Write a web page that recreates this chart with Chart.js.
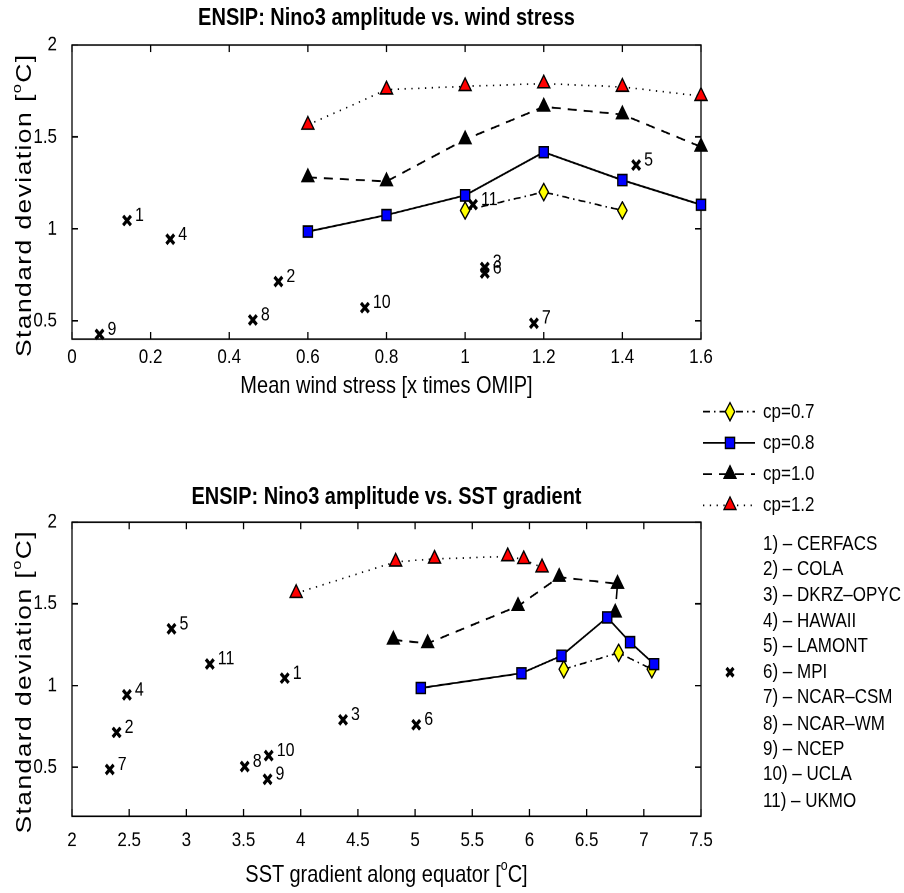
<!DOCTYPE html>
<html>
<head>
<meta charset="utf-8">
<title>ENSIP Nino3 amplitude</title>
<script src="https://cdn.jsdelivr.net/npm/chart.js@4.4.1/dist/chart.umd.min.js"></script>
<style>
  html, body { margin: 0; padding: 0; background: #fff; }
  body { width: 904px; height: 893px; overflow: hidden; position: relative;
         font-family: "Liberation Sans", Arial, Helvetica, sans-serif; color: #000; }
  /* the reference is a MATLAB figure stretched vertically, so draw it flat and stretch */
  #fig { position: absolute; left: 0; top: 0; width: 904px; height: 744px;
         transform: scaleY(1.2003); transform-origin: 0 0; }
  canvas { position: absolute; left: 0; }
  .t { position: absolute; white-space: nowrap; transform: translate(-50%, -50%); }
  .title { font-weight: bold; font-size: 20px; }
  .lab { font-size: 20px; }
  .ylab { font-size: 22px; letter-spacing: 1.2px; transform: translate(-50%, -50%) rotate(-90deg); }
  sup { font-size: 0.62em; vertical-align: 0.75em; line-height: 0; }
  .legsym { position: absolute; left: 700px; width: 58px; height: 20px; transform: translateY(-50%); }
  .legtxt { position: absolute; left: 763px; font-size: 17px; white-space: nowrap; transform: translateY(-50%); }
</style>
</head>
<body>
<div id="fig">
  <canvas id="top" width="904" height="320" style="top:0px"></canvas>
  <canvas id="bottom" width="904" height="424" style="top:320px"></canvas>

  <div class="t title" style="left:386.5px; top:14px">ENSIP: Nino3 amplitude vs. wind stress</div>
  <div class="t lab" style="left:386.5px; top:321px">Mean wind stress [x times OMIP]</div>
  <div class="t lab ylab" style="left:24px; top:171px">Standard deviation [<sup>o</sup>C]</div>

  <div class="t title" style="left:386.5px; top:412.5px">ENSIP: Nino3 amplitude vs. SST gradient</div>
  <div class="t lab" style="left:386.5px; top:728px">SST gradient along equator [<sup>o</sup>C]</div>
  <div class="t lab ylab" style="left:24px; top:568px">Standard deviation [<sup>o</sup>C]</div>

  <div id="legend"></div>
</div>

<script>
// x positions of the coupled runs (cp = coupling parameter)
const windStress = [0.6, 0.8, 1.0, 1.2, 1.4, 1.6];
const windStressCp07 = [1.0, 1.2, 1.4];
const sstCp07 = [6.30, 6.78, 7.07];
const sstCp08 = [5.05, 5.93, 6.28, 6.68, 6.88, 7.09];
const sstCp10 = [4.81, 5.11, 5.90, 6.26, 6.77, 6.75];
const sstCp12 = [3.96, 4.83, 5.17, 5.81, 5.95, 6.11];

// Nino3 standard deviation, same runs in both panels
const stdCp07 = [1.10, 1.20, 1.10];
const stdCp08 = [0.985, 1.075, 1.182, 1.417, 1.265, 1.131];
const stdCp10 = [1.28, 1.258, 1.486, 1.664, 1.622, 1.446];
const stdCp12 = [1.565, 1.757, 1.775, 1.79, 1.772, 1.722];

// ENSIP models
const modelNames = ['CERFACS', 'COLA', 'DKRZ–OPYC', 'HAWAII', 'LAMONT', 'MPI',
                    'NCAR–CSM', 'NCAR–WM', 'NCEP', 'UCLA', 'UKMO'];
const modelWind = [0.14, 0.525, 1.05, 0.25, 1.435, 1.05, 1.175, 0.46, 0.07, 0.745, 1.02];
const modelSst = [3.86, 2.39, 4.37, 2.48, 2.87, 5.01, 2.33, 3.51, 3.71, 3.72, 3.205];
const modelStd = [1.045, 0.713, 0.79, 0.943, 1.347, 0.76, 0.486, 0.504, 0.426, 0.571, 1.132];

// ticks
const windTicks = [0, 0.2, 0.4, 0.6, 0.8, 1, 1.2, 1.4, 1.6];
const sstTicks = [2, 2.5, 3, 3.5, 4, 4.5, 5, 5.5, 6, 6.5, 7, 7.5];
const stdTicks = [0.5, 1, 1.5, 2];

const FONT = '"Liberation Sans", Arial, Helvetica, sans-serif';
Chart.defaults.font.family = FONT;
Chart.defaults.color = '#000';

const pts = (xs, ys) => xs.map((x, i) => ({x: x, y: ys[i]}));

// MATLAB diamond is taller than wide, so use a small svg image
const diamondSvg = '<svg xmlns="http://www.w3.org/2000/svg" width="11" height="16" viewBox="0 0 11 16">' +
  '<polygon points="5.5,0.8 10.2,8 5.5,15.2 0.8,8" fill="#ffff00" stroke="#000" stroke-width="1.3"/></svg>';
const diamond = new Image(11, 16);

// inward ticks on all four sides plus the box
const frame = {
  id: 'frame',
  beforeDatasetsDraw(chart) {
    const {ctx, chartArea: a, scales} = chart;
    ctx.save();
    ctx.strokeStyle = '#000';
    ctx.lineWidth = 1.3;
    ctx.beginPath();
    scales.x.ticks.forEach(t => {
      const px = scales.x.getPixelForValue(t.value);
      ctx.moveTo(px, a.bottom); ctx.lineTo(px, a.bottom - 6);
      ctx.moveTo(px, a.top); ctx.lineTo(px, a.top + 6);
    });
    scales.y.ticks.forEach(t => {
      const py = scales.y.getPixelForValue(t.value);
      ctx.moveTo(a.left, py); ctx.lineTo(a.left + 6, py);
      ctx.moveTo(a.right, py); ctx.lineTo(a.right - 6, py);
    });
    ctx.stroke();
    ctx.strokeRect(a.left, a.top, a.right - a.left, a.bottom - a.top);
    ctx.restore();
  }
};

// model numbers next to the crosses
const numbers = {
  id: 'numbers',
  afterDatasetsDraw(chart) {
    const ctx = chart.ctx;
    chart.data.datasets.forEach((ds, i) => {
      if (!ds.numbers) return;
      ctx.save();
      ctx.font = '16px ' + FONT;
      ctx.fillStyle = '#000';
      ctx.textBaseline = 'middle';
      chart.getDatasetMeta(i).data.forEach((el, j) => {
        ctx.fillText(ds.numbers[j], el.x + 8, el.y - 4);
      });
      ctx.restore();
    });
  }
};

function seriesSets(x07, x08, x10, x12, xm) {
  return [
    {label: 'cp=0.8', data: pts(x08, stdCp08), showLine: true, borderColor: '#000', borderWidth: 1.6,
     pointStyle: 'rect', pointRadius: 6.5, pointBackgroundColor: '#0000ff', pointBorderColor: '#000', pointBorderWidth: 1.3},
    {label: 'cp=0.7', data: pts(x07, stdCp07), showLine: true, borderColor: '#000', borderWidth: 1.4,
     borderDash: [7, 4, 1.5, 4], pointStyle: diamond},
    {label: 'cp=1.0', data: pts(x10, stdCp10), showLine: true, borderColor: '#000', borderWidth: 1.6,
     borderDash: [9, 7], pointStyle: 'triangle', pointRadius: 7, pointBackgroundColor: '#000',
     pointBorderColor: '#000', pointBorderWidth: 1.2},
    {label: 'cp=1.2', data: pts(x12, stdCp12), showLine: true, borderColor: '#000', borderWidth: 1.4,
     borderDash: [1.3, 5.5], pointStyle: 'triangle', pointRadius: 7, pointBackgroundColor: '#ff0000',
     pointBorderColor: '#000', pointBorderWidth: 1.3},
    {label: 'models', data: pts(xm, modelStd), showLine: false, pointStyle: 'crossRot', pointRadius: 5.5,
     pointBorderColor: '#000', pointBorderWidth: 3, numbers: modelNames.map((n, i) => String(i + 1))}
  ];
}

function makeChart(id, canvasH, areaTop, areaBottom, xMin, xMax, xTicks, yMin, tickPad, datasets) {
  return new Chart(document.getElementById(id), {
    type: 'scatter',
    data: {datasets: datasets},
    options: {
      responsive: false,
      animation: false,
      devicePixelRatio: 2,
      events: [],
      clip: false,
      layout: {padding: {left: 0, right: 904 - 701, top: areaTop, bottom: 0}},
      plugins: {legend: {display: false}, tooltip: {enabled: false}},
      datasets: {scatter: {clip: false}},
      scales: {
        x: {
          type: 'linear', min: xMin, max: xMax,
          afterBuildTicks: s => { s.ticks = xTicks.map(v => ({value: v})); },
          afterFit: s => { s.height = canvasH - areaBottom; },
          grid: {display: false}, border: {display: false},
          ticks: {padding: tickPad, autoSkip: false, maxRotation: 0, font: {size: 17},
                  callback: v => String(v)}
        },
        y: {
          type: 'linear', min: yMin, max: 2,
          afterBuildTicks: s => { s.ticks = stdTicks.map(v => ({value: v})); },
          afterFit: s => { s.width = 72; },
          grid: {display: false}, border: {display: false},
          ticks: {padding: 7, autoSkip: false, font: {size: 17}, callback: v => String(v)}
        }
      }
    },
    plugins: [frame, numbers]
  });
}

function buildLegend() {
  const leg = document.getElementById('legend');
  const tri = fill => '<polygon points="30,3 36.06,13.5 23.94,13.5" fill="' + fill + '" stroke="#000" stroke-width="1.2"/>';
  const rows = [
    {label: 'cp=0.7', dash: '7 4 1.5 4', mark: '<polygon points="30,2.5 34.7,10 30,17.5 25.3,10" fill="#ffff00" stroke="#000" stroke-width="1.3"/>'},
    {label: 'cp=0.8', dash: '', mark: '<rect x="25.4" y="5.4" width="9.2" height="9.2" fill="#0000ff" stroke="#000" stroke-width="1.3"/>'},
    {label: 'cp=1.0', dash: '9 7', mark: tri('#000')},
    {label: 'cp=1.2', dash: '1.3 5.5', mark: tri('#ff0000')}
  ];
  const rowY = [343, 369, 394.5, 420.5];
  let html = '';
  rows.forEach((r, i) => {
    html += '<svg class="legsym" style="top:' + rowY[i] + 'px" viewBox="0 0 58 20">' +
      '<line x1="3" y1="10" x2="55" y2="10" stroke="#000" stroke-width="1.5"' +
      (r.dash ? ' stroke-dasharray="' + r.dash + '"' : '') + '/>' + r.mark + '</svg>';
    html += '<div class="legtxt" style="top:' + rowY[i] + 'px">' + r.label + '</div>';
  });
  modelNames.forEach((n, i) => {
    const y = 452.8 + i * 21.4;
    html += '<div class="legtxt" style="top:' + y + 'px">' + (i + 1) + ') – ' + n + '</div>';
  });
  // cross symbol for the model entries, next to 6)
  const yc = 452.8 + 5 * 21.4;
  html += '<svg class="legsym" style="top:' + yc + 'px" viewBox="0 0 58 20">' +
    '<path d="M26.5,6.5 L33.5,13.5 M33.5,6.5 L26.5,13.5" stroke="#000" stroke-width="3"/></svg>';
  leg.innerHTML = html;
}

function draw() {
  buildLegend();
  makeChart('top', 320, 37.5, 282.5, 0, 1.6, windTicks, 0.4, -3,
            seriesSets(windStressCp07, windStress, windStress, windStress, modelWind));
  makeChart('bottom', 424, 115, 360, 2, 7.5, sstTicks, 0.2, 2,
            seriesSets(sstCp07, sstCp08, sstCp10, sstCp12, modelSst));
}

diamond.onload = draw;
diamond.src = 'data:image/svg+xml;charset=utf-8,' + encodeURIComponent(diamondSvg);
</script>
</body>
</html>
